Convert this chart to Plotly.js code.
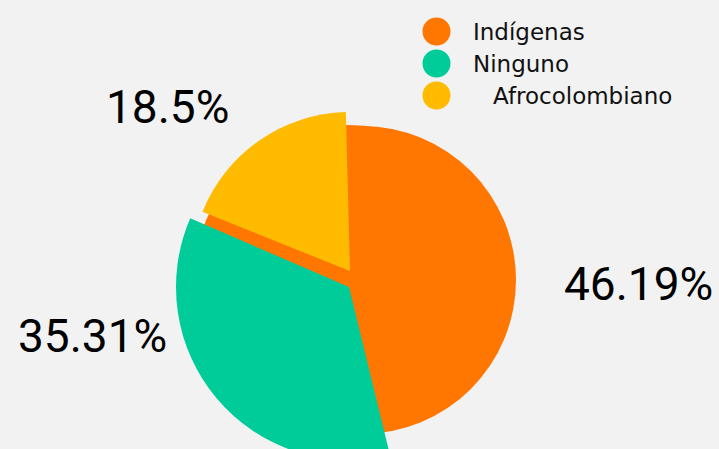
<!DOCTYPE html>
<html><head><meta charset="utf-8">
<script src="https://cdn.plot.ly/plotly-3.0.1.min.js"></script>
<style>
html,body{margin:0;padding:0;background:#f2f2f2;width:719px;height:449px;overflow:hidden;}
#wrap{width:719px;height:449px;overflow:hidden;position:relative;}
#chart{width:719px;height:480px;}
</style></head><body>
<div id="wrap"><div id="chart"></div></div>
<script>
// ---- data ----
const categories = ['Indígenas', 'Ninguno', 'Afrocolombiano'];
const shares = [46.19, 35.31, 18.5];
const colors = ['#ff7700', '#00cc99', '#ffbb00'];

// ---- layout helpers (pixel geometry of the figure) ----
const W = 719, H = 480;
function domainFor(cx, cy, r) {
  return {x: [(cx - r) / W, (cx + r) / W], y: [1 - (cy + r) / H, 1 - (cy - r) / H]};
}
const px = x => x / W;
const py = y => 1 - y / H;
const clear = 'rgba(0,0,0,0)';
function layerColors(i) { return categories.map((_, j) => j === i ? colors[i] : clear); }

const common = {
  type: 'pie', sort: false, direction: 'clockwise', textinfo: 'none',
  hoverinfo: 'label+percent', showlegend: false
};

const layers = [
  // Indígenas: backing disc (shows through the gap between the pulled slices)
  Object.assign({}, common, {
    labels: [categories[0]], values: [shares[0]], rotation: 0,
    marker: {colors: [colors[0]], line: {width: 0}},
    domain: domainFor(349, 280, 155)
  }),
  // Indígenas: main body
  Object.assign({}, common, {
    labels: [categories[0]], values: [shares[0]], rotation: 0,
    marker: {colors: [colors[0]], line: {width: 0}},
    domain: domainFor(362, 280, 154)
  }),
  // Ninguno: pulled-out slice
  Object.assign({}, common, {
    labels: categories, values: shares, rotation: 0,
    marker: {colors: layerColors(1), line: {width: 0}},
    domain: domainFor(349, 287, 173)
  }),
  // Afrocolombiano: pulled-out slice
  Object.assign({}, common, {
    labels: categories, values: shares, rotation: -1.5,
    marker: {colors: layerColors(2), line: {width: 0}},
    domain: domainFor(350, 271, 159)
  })
];

// legend (large circular markers)
const legendX = 436.5, legendY0 = 31.5, legendStep = 32, legendR = 14;
const legendIndent = [0, 0, 20];
const shapes = categories.map((c, i) => ({
  type: 'circle', xref: 'paper', yref: 'paper',
  x0: px(legendX - legendR), x1: px(legendX + legendR),
  y0: py(legendY0 + i * legendStep + legendR), y1: py(legendY0 + i * legendStep - legendR),
  fillcolor: colors[i], line: {width: 0}, layer: 'above'
}));
const legendText = categories.map((c, i) => ({
  xref: 'paper', yref: 'paper', x: px(471 + legendIndent[i]), y: py(legendY0 + i * legendStep),
  xanchor: 'left', yanchor: 'middle', showarrow: false, text: c,
  font: {family: 'DejaVu Sans', size: 23, color: '#111111'}
}));

// percentage labels
const labelPos = [[638.5, 284], [92, 336], [167, 107]];
const pctText = shares.map((v, i) => ({
  xref: 'paper', yref: 'paper', x: px(labelPos[i][0]), y: py(labelPos[i][1]),
  xanchor: 'center', yanchor: 'middle', showarrow: false, text: v + '%',
  font: {family: 'Roboto', size: 46, color: '#000000'}
}));

const layout = {
  width: W, height: H,
  margin: {l: 0, r: 0, t: 0, b: 0},
  paper_bgcolor: '#f2f2f2', plot_bgcolor: '#f2f2f2',
  showlegend: false,
  shapes: shapes,
  annotations: legendText.concat(pctText)
};

Plotly.newPlot('chart', layers, layout, {displayModeBar: false, staticPlot: true});
</script>
</body></html>
